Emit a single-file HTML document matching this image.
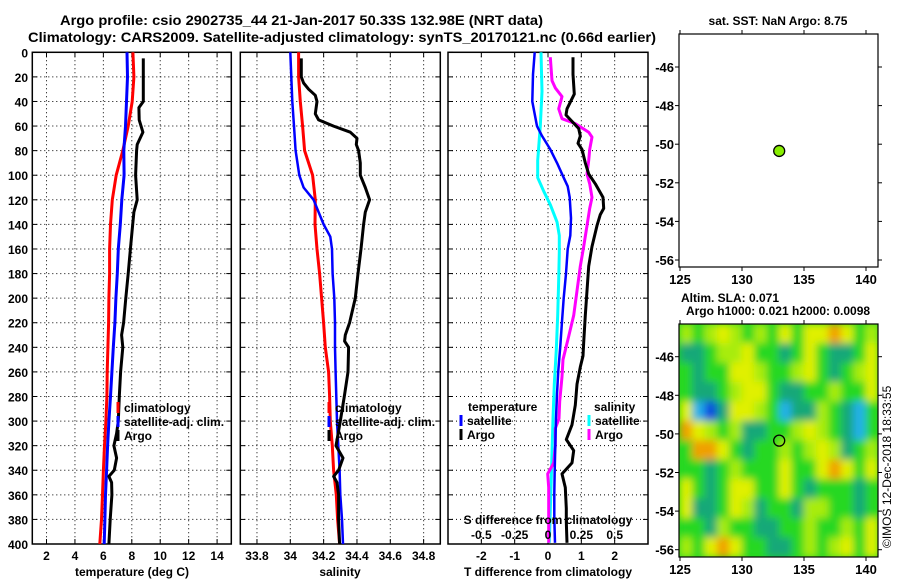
<!DOCTYPE html>
<html><head><meta charset="utf-8">
<style>
html,body{margin:0;padding:0;background:#fff;}
svg{display:block;font-family:"Liberation Sans",sans-serif;font-weight:bold;}
</style></head>
<body>
<svg id="chart" width="900" height="580" viewBox="0 0 900 580" xmlns="http://www.w3.org/2000/svg">
<defs>
<filter id="blur" x="-10%" y="-10%" width="120%" height="120%"><feGaussianBlur stdDeviation="4"/></filter>
<clipPath id="mapclip"><rect x="679" y="324" width="199" height="233"/></clipPath>
</defs>
<text x="60" y="25" font-size="14" textLength="483" lengthAdjust="spacingAndGlyphs">Argo profile: csio 2902735_44 21-Jan-2017 50.33S 132.98E (NRT data)</text>
<text x="28" y="42" font-size="14" textLength="628" lengthAdjust="spacingAndGlyphs">Climatology: CARS2009. Satellite-adjusted climatology: synTS_20170121.nc (0.66d earlier)</text>
<text x="778" y="25" font-size="12" text-anchor="middle">sat. SST: NaN Argo: 8.75</text>
<text x="730" y="302" font-size="12" text-anchor="middle">Altim. SLA: 0.071</text>
<text x="778" y="315" font-size="12" text-anchor="middle">Argo h1000: 0.021 h2000: 0.0098</text>
<text transform="translate(891,548) rotate(-90)" font-size="12" font-weight="normal">©IMOS 12-Dec-2018 18:33:55</text>
<g id="layer"></g>
</svg>
<script>
// ---------- data ----------
const depthTicks = [0,20,40,60,80,100,120,140,160,180,200,220,240,260,280,300,320,340,360,380,400];
const tTicks = [2,4,6,8,10,12,14];
const sTicks = [33.8,34,34.2,34.4,34.6,34.8];
const sTickLabels = ["33.8","34","34.2","34.4","34.6","34.8"];
const dTicks = [-2,-1,0,1,2];
const dSTickLabels = ["-0.5","-0.25","0","0.25","0.5"];

const climTDepth = [0,20,40,60,80,100,120,140,160,180,200,220,240,260,280,300,320,340,360,380,400];
const climT = [8.08,8.15,8.03,7.75,7.37,6.9,6.63,6.5,6.44,6.44,6.39,6.37,6.32,6.27,6.25,6.18,6.08,6.0,5.94,5.87,5.75];
const satT = [7.66,7.7,7.63,7.56,7.44,7.46,7.3,7.19,7.05,6.98,6.88,6.81,6.7,6.6,6.5,6.39,6.3,6.23,6.15,6.11,6.06];
const argoTDepth = [5,20,40,45,55,65,75,80,100,120,130,140,160,180,200,220,230,240,260,280,300,310,320,330,340,345,350,360,380,400];
const argoT = [8.81,8.81,8.81,8.5,8.52,8.78,8.38,8.34,8.27,8.38,8.15,8.06,7.9,7.75,7.58,7.42,7.28,7.37,7.21,7.12,7.05,6.93,6.74,6.93,6.77,6.39,6.58,6.6,6.48,6.39];

const climSDepth = [0,20,40,60,80,90,100,120,140,160,180,200,220,240,260,280,300,320,340,360,380,400];
const climS = [34.05,34.05,34.06,34.074,34.086,34.11,34.134,34.15,34.148,34.16,34.176,34.188,34.2,34.21,34.23,34.236,34.24,34.252,34.26,34.276,34.284,34.296];
const satSDepth = [0,20,40,60,80,100,110,120,140,150,160,180,200,220,240,260,280,300,320,340,360,380,400];
const satS = [34.0,34.006,34.012,34.022,34.032,34.054,34.08,34.14,34.2,34.24,34.25,34.254,34.264,34.268,34.268,34.272,34.276,34.28,34.288,34.296,34.3,34.31,34.316];
const argoSDepth = [5,20,25,30,35,40,50,55,60,65,70,75,80,90,100,110,120,130,140,160,180,200,220,230,235,240,260,280,300,320,330,340,345,350,360,380,400];
const argoS = [34.066,34.066,34.08,34.11,34.15,34.16,34.15,34.17,34.26,34.36,34.4,34.396,34.41,34.42,34.42,34.45,34.476,34.45,34.44,34.424,34.406,34.39,34.356,34.33,34.326,34.35,34.346,34.324,34.3,34.274,34.316,34.29,34.26,34.28,34.29,34.29,34.296];

const satDTDepth = [0,18,40,60,68,79,90,102,109,118,135,149,160,180,200,219,239,259,278,298,320,340,359,379,399];
const satDT = [-0.4,-0.45,-0.47,-0.33,-0.18,0.07,0.27,0.47,0.59,0.65,0.69,0.67,0.59,0.54,0.47,0.42,0.37,0.31,0.27,0.24,0.22,0.2,0.19,0.19,0.21];
const argoDTDepth = [4,18,34,46,51,62,68,74,79,90,99,107,118,127,132,141,158,174,194,214,236,247,256,270,287,303,315,324,334,343,354,371,382,399];
const argoDT = [0.75,0.75,0.79,0.57,0.54,0.92,0.97,0.9,1.02,1.12,1.22,1.42,1.65,1.67,1.57,1.47,1.32,1.22,1.17,1.12,1.07,1.05,0.97,0.87,0.82,0.72,0.55,0.77,0.72,0.42,0.52,0.55,0.55,0.57];
const satDSDepth = [0,32,60,74,88,102,113,124,138,149,163,185,214,242,270,298,326,354,399];
const satDS = [-0.0525,-0.045,-0.0575,-0.0675,-0.0775,-0.0775,-0.0325,0.0175,0.0675,0.085,0.085,0.08,0.0725,0.0625,0.0475,0.0375,0.03,0.0225,0.01];
const argoDSDepth = [4,23,29,36,46,54,58,65,69,79,88,99,107,118,127,141,158,174,194,214,231,239,250,264,284,298,306,320,334,343,354,382,399];
const argoDS = [0.0175,0.03,0.055,0.105,0.08,0.105,0.205,0.305,0.33,0.3125,0.305,0.2925,0.3125,0.33,0.3125,0.2925,0.2675,0.2425,0.2175,0.1925,0.155,0.1375,0.1125,0.105,0.0875,0.0825,0.055,0.055,0.0425,-0.0025,0.005,0.005,0.005];

const lonTicks = [125,130,135,140];
const latTicks = [-46,-48,-50,-52,-54,-56];
const floatLon = [133];
const floatLat = [-50.35];
// SLA grid levels (rows north->south, 1deg lon columns from 125E); 0 deep blue ... 6 orange
const slaGrid = [
 [4,3,4,5,4,3,4,3,5,3,5,5,6,5,3,4],
 [2,2,3,4,4,5,3,3,2,3,5,3,2,2,3,5],
 [3,2,3,3,5,5,4,3,3,4,5,3,2,3,4,5],
 [3,2,2,3,4,5,5,3,2,2,3,3,4,3,3,5],
 [5,1,0,2,5,5,4,3,1,2,2,4,3,2,1,3],
 [6,5,4,3,4,2,2,3,3,4,5,4,3,2,1,3],
 [3,6,6,5,3,2,3,3,4,3,4,5,4,2,3,4],
 [3,3,2,3,4,3,3,3,5,3,3,5,6,5,3,5],
 [5,3,2,3,5,5,3,3,5,3,2,3,3,3,2,3],
 [5,2,2,3,5,4,2,3,3,2,4,4,3,3,2,3],
 [3,3,2,4,3,3,2,2,3,3,4,3,3,4,3,5],
 [4,3,5,6,5,3,3,2,2,3,4,3,4,5,3,5]
];
const slaColors = ["#1048e0","#20b0e8","#18a878","#28d820","#a8ec10","#e0f000","#f0a000"];

// ---------- scales ----------
const Y0=52.3, Y1=544;
const yD = d => Y0 + d/400*(Y1-Y0);
function lin(d0,d1,r0,r1){return v=>r0+(v-d0)/(d1-d0)*(r1-r0);}
const P1={x0:32.3,x1:231.3,d0:1,d1:15};
const P2={x0:240.3,x1:440.3,d0:33.7,d1:34.9};
const P3={x0:448,x1:648,d0:-3,d1:3};
const xT=lin(P1.d0,P1.d1,P1.x0,P1.x1);
const xS=lin(P2.d0,P2.d1,P2.x0,P2.x1);
const xDT=lin(P3.d0,P3.d1,P3.x0,P3.x1);
const xDS=v=>xDT(v*4);
const MX0=679,MX1=878;
const xLon=lin(125,140,680,866);
const yLatTop=lin(-46,-56,67,260);
const yLatBot=lin(-46,-56,356.7,549.7);

const NS="http://www.w3.org/2000/svg";
const layer=document.getElementById('layer');
function mk(tag,attrs,parent){const e=document.createElementNS(NS,tag);for(const k in attrs)e.setAttribute(k,attrs[k]);(parent||layer).appendChild(e);return e;}
function txt(s,x,y,anchor,size,name,parent){const t=mk('text',{x:x,y:y,'text-anchor':anchor||'start','font-size':size||12},parent);t.textContent=s;


return t;}

function panel(P,name,ticks,xf,labels){
  const g=mk('g',{});
  
  
  depthTicks.forEach(d=>{ if(d>0&&d<400){ const l=mk('line',{x1:P.x0,x2:P.x1,y1:yD(d),y2:yD(d),stroke:'#000','stroke-width':1,'stroke-dasharray':'1,3'},g);
    
    }
    const t1=mk('line',{x1:P.x0,x2:P.x0+5,y1:yD(d),y2:yD(d),stroke:'#000'},g);
    
    
    const t2=mk('line',{x1:P.x1,x2:P.x1-5,y1:yD(d),y2:yD(d),stroke:'#000'},g);
    
    
  });
  ticks.forEach((v,i)=>{const x=xf(v);
    const l=mk('line',{x1:x,x2:x,y1:Y0,y2:Y1,stroke:'#000','stroke-width':1,'stroke-dasharray':'1,3'},g);
    
    
    mk('line',{x1:x,x2:x,y1:Y0,y2:Y0+5,stroke:'#000'},g);
    mk('line',{x1:x,x2:x,y1:Y1,y2:Y1-5,stroke:'#000'},g);
    txt(labels[i],x,560,'middle',12,'x-tick-label',g);
  });
  const r=mk('rect',{x:P.x0,y:Y0,width:P.x1-P.x0,height:Y1-Y0,fill:'none',stroke:'#000','stroke-width':1.5},g);
  
  
  return g;
}
function series(ds,vs,xf,color,w,name,g){
  const pts=ds.map((d,i)=>xf(vs[i]).toFixed(1)+','+yD(d).toFixed(1)).join(' ');
  const p=mk('polyline',{points:pts,fill:'none',stroke:color,'stroke-width':w,'stroke-linejoin':'round'},g);
  
  
}
function legendEntry(x,y,color,label,g,name){
  const l=mk('line',{x1:x,x2:x,y1:y-10,y2:y+1,stroke:color,'stroke-width':3},g);
  
  
  if(label) txt(label,x+6,y,'start',12,name,g);
}

// panel 1
const g1=panel(P1,'temperature-panel',tTicks,xT,tTicks.map(String));
depthTicks.forEach(d=>txt(String(d),28,yD(d)+5,'end',12,'depth-tick-label',g1));
series(climTDepth,climT,xT,'#ff0000',3,'temperature-climatology-line',g1);
series(climTDepth,satT,xT,'#0000ff',3,'temperature-satellite-line',g1);
series(argoTDepth,argoT,xT,'#000',3,'temperature-argo-line',g1);
txt('temperature (deg C)',132,576,'middle',12,'x-axis-title-temperature',g1);
const lg1=mk('g',{},g1);


legendEntry(118,412,'#ff0000','climatology',lg1,'legend-climatology');
legendEntry(118,426,'#0000ff','satellite-adj. clim.',lg1,'legend-satellite-adj');
legendEntry(118,440,'#000','Argo',lg1,'legend-argo');

// panel 2
const g2=panel(P2,'salinity-panel',sTicks,xS,sTickLabels);
series(climSDepth,climS,xS,'#ff0000',3,'salinity-climatology-line',g2);
series(satSDepth,satS,xS,'#0000ff',2.5,'salinity-satellite-line',g2);
series(argoSDepth,argoS,xS,'#000',3,'salinity-argo-line',g2);
txt('salinity',340,576,'middle',12,'x-axis-title-salinity',g2);
const lg2=mk('g',{},g2);


legendEntry(329,412,'#ff0000','climatology',lg2,'legend-climatology');
legendEntry(329,426,'#0000ff','satellite-adj. clim.',lg2,'legend-satellite-adj');
legendEntry(329,440,'#000','Argo',lg2,'legend-argo');

// panel 3
const g3=panel(P3,'difference-panel',dTicks,xDT,dTicks.map(String));
series(satDSDepth,satDS,xDS,'#00ffff',3,'salinity-satellite-diff-line',g3);
series(argoDSDepth,argoDS,xDS,'#ff00ff',3,'salinity-argo-diff-line',g3);
series(satDTDepth,satDT,xDT,'#0000ff',2.5,'temperature-satellite-diff-line',g3);
series(argoDTDepth,argoDT,xDT,'#000',3,'temperature-argo-diff-line',g3);
txt('T difference from climatology',548,576,'middle',12,'x-axis-title-t-diff',g3);
txt('S difference from climatology',548,524,'middle',12,'s-axis-title',g3);
dTicks.forEach((v,i)=>txt(dSTickLabels[i],xDT(v),539,'middle',12,'s-tick-label',g3));
const lg3=mk('g',{},g3);


txt('temperature',468,411,'start',12,'legend-temperature-heading',lg3);
legendEntry(461,425,'#0000ff','satellite',lg3,'legend-t-satellite');
legendEntry(461,439,'#000','Argo',lg3,'legend-t-argo');
txt('salinity',594,411,'start',12,'legend-salinity-heading',lg3);
legendEntry(589,425,'#00ffff','satellite',lg3,'legend-s-satellite');
legendEntry(589,439,'#ff00ff','Argo',lg3,'legend-s-argo');

// maps
function mapFrame(top,bottom,yf,name){
  const g=mk('g',{});
  
  
  lonTicks.forEach(v=>{const x=xLon(v);
    mk('line',{x1:x,x2:x,y1:top,y2:top-4,stroke:'#000'},g);
    mk('line',{x1:x,x2:x,y1:bottom,y2:bottom+4,stroke:'#000'},g);
    txt(String(v),x,bottom+17,'middle',13,'lon-tick-label',g);});
  latTicks.forEach(v=>{const y=yf(v);
    mk('line',{x1:MX0,x2:MX0-4,y1:y,y2:y,stroke:'#000'},g);
    mk('line',{x1:MX1,x2:MX1+4,y1:y,y2:y,stroke:'#000'},g);
    txt(String(v),674,y+5,'end',13,'lat-tick-label',g);});
  const r=mk('rect',{x:MX0,y:top,width:MX1-MX0,height:bottom-top,fill:'none',stroke:'#000','stroke-width':1.2},g);
  
  
  return g;
}
// SLA heatmap
const hm=mk('g',{'clip-path':'url(#mapclip)'});


mk('rect',{x:MX0,y:324,width:MX1-MX0,height:233,fill:'#28d820'},hm);
const bg=mk('g',{filter:'url(#blur)'},hm);
const cw=12.4, ch=233/12;
slaGrid.forEach((row,r)=>row.forEach((v,c)=>{
  const e=mk('rect',{x:(680+c*cw-0.3).toFixed(1),y:(324+r*ch-0.3).toFixed(1),width:cw+0.6,height:ch+0.6,fill:slaColors[v]},bg);
  
  
}));
mapFrame(324,557,yLatBot,'sla-map');
floatLon.forEach((lo,i)=>{const c=mk('circle',{cx:xLon(lo),cy:yLatBot(floatLat[i]),r:5.5,fill:'none',stroke:'#000','stroke-width':1.3});
  
  });

mapFrame(34,267,yLatTop,'sst-map');
floatLon.forEach((lo,i)=>{const c=mk('circle',{cx:xLon(lo),cy:yLatTop(floatLat[i]),r:5.5,fill:'#88ee00',stroke:'#000','stroke-width':1.3});
  
  });
</script>
</body></html>
